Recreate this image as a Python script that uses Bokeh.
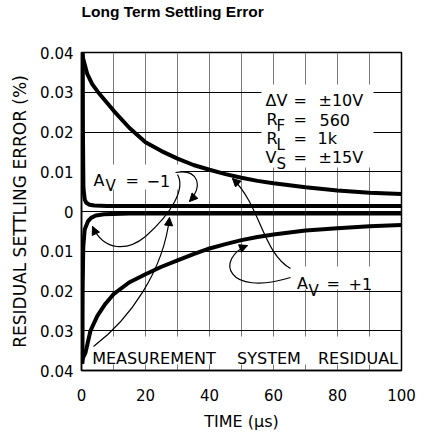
import math
from bokeh.plotting import figure
from bokeh.models import Range1d, FixedTicker, Label, BoxAnnotation, Arrow, NormalHead, Title
from bokeh.embed import file_html
from bokeh.resources import INLINE

# ---------------- data ----------------
# A_V = +1, upper (positive) settling curve
t_pos_p1 = [0, 0.7, 1.8, 3.3, 5, 7.5, 10, 15, 20, 25, 30, 35, 40, 45, 50, 55, 60, 70, 80, 90, 100]
err_pos_p1 = [0.040, 0.0379, 0.0346, 0.0321, 0.0302, 0.0278, 0.0254, 0.0210, 0.0174, 0.0152,
              0.0133, 0.0117, 0.0105, 0.0094, 0.0085, 0.0077, 0.0071, 0.0061, 0.0053, 0.0047, 0.0044]

# A_V = +1, lower (negative) settling curve
t_neg_p1 = [0, 0.5, 1.25, 2.8, 5, 7.5, 10, 15, 20, 25, 30, 35, 40, 45, 50, 55, 60, 70, 80, 90, 100]
err_neg_p1 = [-0.0383, -0.0368, -0.0355, -0.0300, -0.0262, -0.0232, -0.0208, -0.0178, -0.0158, -0.0139,
              -0.0123, -0.0107, -0.0093, -0.0082, -0.0072, -0.0064, -0.0058, -0.0048, -0.0042, -0.0037, -0.0034]

# A_V = -1, upper (positive) settling curve
t_pos_m1 = [0.4, 0.45, 0.6, 1, 1.5, 2.5, 4, 8, 100]
err_pos_m1 = [0.040, 0.020, 0.006, 0.003, 0.0022, 0.0017, 0.0015, 0.0014, 0.0014]

# A_V = -1, lower (negative) settling curve
t_neg_m1 = [0.3, 0.35, 0.55, 1, 2, 3, 4.5, 7, 15, 100]
err_neg_m1 = [-0.0383, -0.020, -0.009, -0.0045, -0.0025, -0.0016, -0.0010, -0.0007, -0.0005, -0.0005]

x_ticks = [0, 20, 40, 60, 80, 100]
x_grid_ticks = [0, 10, 20, 30, 40, 50, 60, 70, 80, 90, 100]
y_ticks = [-0.04, -0.03, -0.02, -0.01, 0, 0.01, 0.02, 0.03, 0.04]
y_tick_labels = ["0.04", "0.03", "0.02", "0.01", "0", "0.01", "0.02", "0.03", "0.04"]

# ---------------- figure ----------------
p = figure(width=426, height=436, title=None,
           x_range=Range1d(0, 100), y_range=Range1d(-0.04, 0.04),
           output_backend="svg", toolbar_location=None,
           min_border_left=81, min_border_right=25, min_border_top=52, min_border_bottom=66)
p.background_fill_color = "white"
p.border_fill_color = "white"
p.outline_line_color = "black"
p.outline_line_width = 1.5

# spacer panel between frame and title, then the title itself
p.add_layout(Title(text=" ", text_font="Liberation Sans", text_font_size="15.5px",
                   standoff=14), "above")
p.add_layout(Title(text="Long Term Settling Error", align="left", offset=0,
                   text_font="Liberation Sans", text_font_size="15.5px", text_font_style="bold",
                   text_color="black", standoff=0), "above")

FONT = "DejaVu Sans"

# axes
p.xaxis.ticker = FixedTicker(ticks=x_ticks)
p.yaxis.ticker = FixedTicker(ticks=y_ticks)
p.yaxis.major_label_overrides = dict(zip(y_ticks, y_tick_labels))
for ax in (p.xaxis[0], p.yaxis[0]):
    ax.axis_line_color = "black"
    ax.axis_line_width = 1.5
    ax.major_tick_line_color = None
    ax.minor_tick_line_color = None
    ax.major_tick_out = 0
    ax.major_tick_in = 0
    ax.major_label_text_font = FONT
    ax.major_label_text_font_size = "15px"
    ax.major_label_text_color = "black"
    ax.axis_label_text_font = FONT
    ax.axis_label_text_font_style = "normal"
    ax.axis_label_text_color = "black"
p.xaxis.major_label_standoff = 18
p.xaxis.axis_label = "TIME (μs)"
p.xaxis.axis_label_text_font_size = "16px"
p.xaxis.axis_label_standoff = 8
p.yaxis.major_label_standoff = 8
p.yaxis.axis_label = "RESIDUAL SETTLING ERROR (%)"
p.yaxis.axis_label_text_font_size = "17px"
p.yaxis.axis_label_standoff = 7

# grids
p.xgrid.ticker = FixedTicker(ticks=x_grid_ticks)
p.xgrid.grid_line_color = "#7a7a7a"
p.xgrid.grid_line_width = 1
p.ygrid.ticker = FixedTicker(ticks=y_ticks)
p.ygrid.grid_line_color = "black"
p.ygrid.grid_line_width = 1


# helpers to place annotations (pixel position in the page -> data units)
def X(px):
    return (px - 81) / 3.2


def Y(py):
    return (211 - py) / 3975


def wbox(l, r, t, b):
    p.add_layout(BoxAnnotation(left=X(l), right=X(r), top=Y(t), bottom=Y(b),
                               fill_color="white", fill_alpha=1.0, line_color=None,
                               level="underlay"))


def txt(s, px, py, size=16, font=FONT, style="normal", align="left"):
    p.add_layout(Label(x=X(px), y=Y(py), text=s, text_font=font, text_font_size=f"{size}px",
                       text_font_style=style, text_baseline="alphabetic", text_align=align,
                       text_color="black"))


# white backgrounds behind the annotation texts (interrupt the grid)
wbox(261, 373, 84, 167)
wbox(84, 180, 164, 189)
wbox(292, 378, 266, 289)
wbox(95, 398, 336, 364)

# curves
for tt, ee in ((t_pos_p1, err_pos_p1), (t_neg_p1, err_neg_p1),
               (t_pos_m1, err_pos_m1), (t_neg_m1, err_neg_m1)):
    p.line(tt, ee, line_color="black", line_width=4)

# annotation arrows (cubic curves in pixel coords -> data)
paths = [
    ((175, 172), (198, 168), (203, 186), (189, 201), True),
    ((177, 174), (185, 188), (172, 212), (145, 236), False),
    ((145, 236), (128, 250), (104, 252), (92, 226), True),
    ((290, 277), (225, 297), (215, 258), (247, 245), True),
    ((290, 268), (262, 252), (260, 205), (232, 178), True),
    ((93, 346), (130, 318), (163, 270), (169, 217), True),
]
for p0, c0, c1, p1, head in paths:
    p.bezier(x0=[X(p0[0])], y0=[Y(p0[1])], x1=[X(p1[0])], y1=[Y(p1[1])],
             cx0=[X(c0[0])], cy0=[Y(c0[1])], cx1=[X(c1[0])], cy1=[Y(c1[1])],
             line_color="black", line_width=1.2)
    if head:
        dx, dy = p1[0] - c1[0], p1[1] - c1[1]
        n = math.hypot(dx, dy)
        sx, sy = p1[0] - 3 * dx / n, p1[1] - 3 * dy / n
        p.add_layout(Arrow(x_start=X(sx), y_start=Y(sy), x_end=X(p1[0]), y_end=Y(p1[1]),
                           line_color=None,
                           end=NormalHead(size=8, fill_color="black", line_color="black",
                                          line_width=1)))

# parameter block
txt("ΔV", 265, 100)
txt("=", 293, 100)
txt("±10V", 318, 100)
txt("R", 266, 119)
txt("F", 276, 125, size=15)
txt("=", 293, 119)
txt("560", 319, 119)
txt("R", 266, 138)
txt("L", 276, 144, size=15)
txt("=", 293, 138)
txt("1k", 317, 138)
txt("V", 265, 157)
txt("S", 276, 163, size=15)
txt("=", 293, 157)
txt("±15V", 318, 157)

# A_V = -1
txt("A", 93, 180)
txt("V", 105, 185, size=15)
txt("=", 125, 180)
txt("−1", 146, 180)

# A_V = +1
txt("A", 296.5, 283)
txt("V", 308, 290, size=15)
txt("=", 326, 283)
txt("+1", 348, 283)

# measurement system residual
txt("MEASUREMENT", 153.5, 358, align="center")
txt("SYSTEM", 268.5, 358, align="center")
txt("RESIDUAL", 357.5, 358, align="center")

open("out.html", "w").write(file_html(p, INLINE))
